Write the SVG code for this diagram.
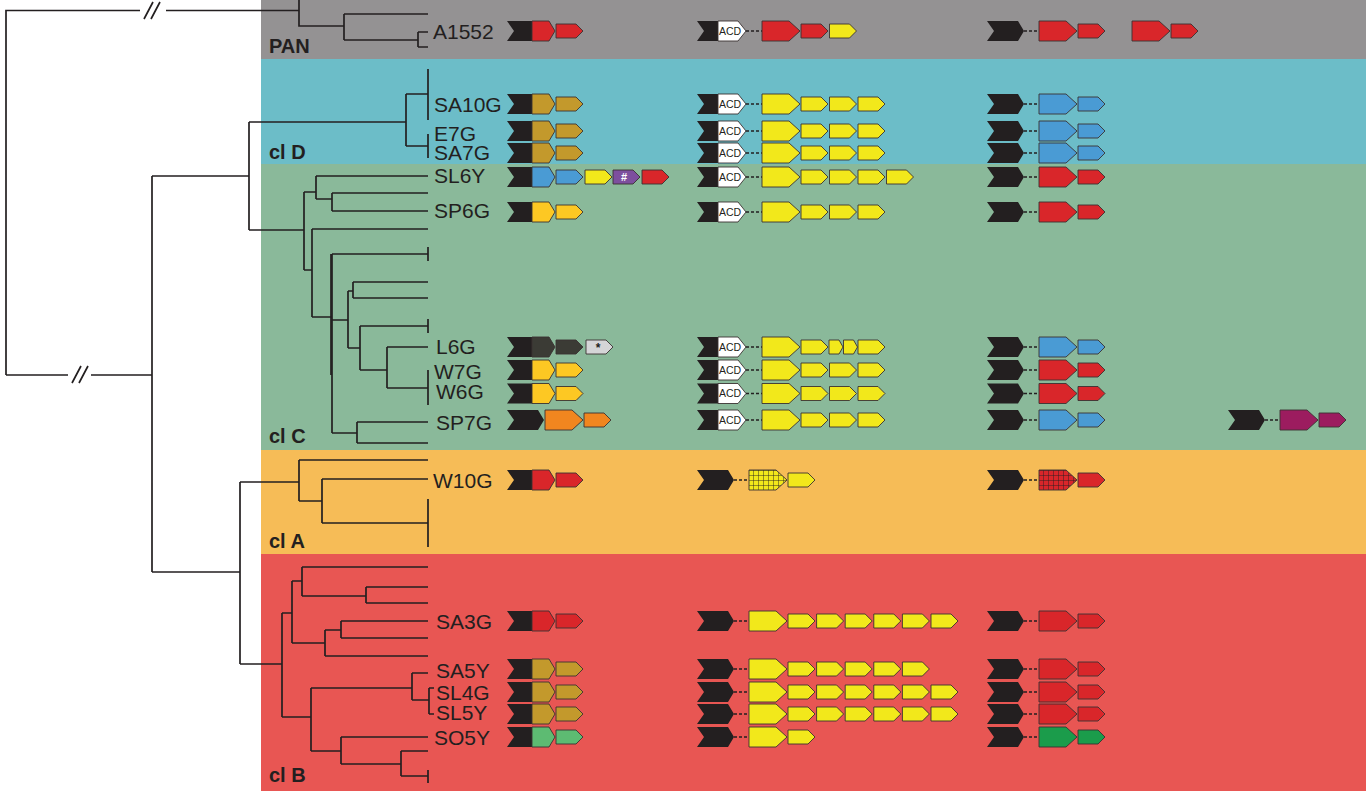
<svg xmlns="http://www.w3.org/2000/svg" xmlns:xlink="http://www.w3.org/1999/xlink" width="1366" height="791" viewBox="0 0 1366 791">
<style>
.lbl{font-family:"Liberation Sans",Arial,sans-serif;font-size:21px;fill:#231f20}
.cl{font-family:"Liberation Sans",Arial,sans-serif;font-size:20px;font-weight:bold;fill:#231f20}
.acd{font-family:"Liberation Sans",Arial,sans-serif;font-size:10.5px;fill:#231f20}
.tree{fill:none;stroke:#231f20;stroke-width:1.7}
.dash{stroke:#231f20;stroke-width:1.6;stroke-dasharray:3 2}
.k{fill:#231f20}
.c{stroke:#3a3232;stroke-width:0.9}
.r{fill:#d9262a}.y{fill:#f2e81b}.gd{fill:#c3992c}.b{fill:#4a9bd4}.yo{fill:#fdc823}
.o{fill:#f1861f}.p{fill:#7d4f9e}.dg{fill:#3b3b35}.lg{fill:#d5d5d7}.lgn{fill:#5dbb72}
.gn{fill:#1b9c4b}.m{fill:#9c1c5f}.w{fill:#ffffff}
</style>
<defs>
<path id="sm" d="M0,-7H20L27,0L20,7H0Z"/>
<path id="tn" d="M0,-7H10L14,0L10,7H0Z"/>
<path id="bg" d="M0,-10H27L38,0L27,10H0Z"/>
<path id="bk" d="M0,-10H31L37,0L31,10H0L7,0Z"/>
<path id="tl" d="M0,-10H25V10H0L7,0Z"/>
<path id="hd" d="M0,-10H17L23,0L17,10H0Z"/>
<path id="at" d="M0,-10H21V10H0L7,0Z"/>
<path id="aw" d="M0,-10H20L28,0L20,10H0Z"/>
<pattern id="gy" patternUnits="userSpaceOnUse" x="749" y="470" width="5" height="5"><rect width="5" height="5" fill="#f2e81b"/><path d="M0,0H5M0,0V5" stroke="#231f20" stroke-width="0.9"/></pattern>
<pattern id="gr" patternUnits="userSpaceOnUse" x="1039" y="470" width="5" height="5"><rect width="5" height="5" fill="#d9262a"/><path d="M0,0H5M0,0V5" stroke="#231f20" stroke-width="0.9"/></pattern>
</defs>

<g id="bands">
<rect x="261" y="0" width="1105" height="59" fill="#949293"/>
<rect x="261" y="59" width="1105" height="105" fill="#6cbdc8"/>
<rect x="261" y="164" width="1105" height="286" fill="#8ab99a"/>
<rect x="261" y="450" width="1105" height="104" fill="#f6bc57"/>
<rect x="261" y="554" width="1105" height="237" fill="#e85653"/>
<text class="cl" x="269" y="53">PAN</text>
<text class="cl" x="269" y="159">cl D</text>
<text class="cl" x="269" y="443">cl C</text>
<text class="cl" x="269" y="548">cl A</text>
<text class="cl" x="269" y="782">cl B</text>
</g>

<g id="connectors">
<path class="tree" d="M6,375V10.5H140M166,10.5H299M299,0V26H344M344,14V40M344,14H428M344,40H418M418,32V47M418,32H428M418,47H428
M6,375H68M91,375H152M152,176V572M152,176H249M249,122V230M249,122H406M406,94V146M406,94H428M406,146H428M428,69V120M428,134V158
M249,230H304M304,192V270M304,192H316M316,176V199M316,176H428M316,199H332M332,193V211M332,193H428M332,211H428
M304,270H312M312,229V317M312,229H428M312,317H332M332,254V433M332,254H428M428,247V261M332,320H348
M348,291V348M348,291H353M353,282V298M353,282H428M353,298H428M348,348H360M360,326V370M360,326H428M428,319V333
M360,370H387M387,347V388M387,347H428M387,388H428M428,370V405M332,433H357M357,422V443M357,422H428M357,443H428
M152,572H240M240,482V664M240,482H299M299,460V501M299,460H428M299,501H322M322,479V523M322,479H428M322,523H428M428,499V547
M240,664H282M282,613V717M282,613H292M292,581V643M292,581H302M302,567V596M302,567H428M302,596H366M366,587V603M366,587H428M366,603H428
M292,643H325M325,630V656M325,630H341M341,621V638M341,621H428M341,638H428M325,656H428
M282,717H311M311,688V751M311,688H412M412,673V700M412,673H428M412,700H429M429,688V714M429,688H434M429,714H434
M311,751H341M341,737V764M341,737H428M341,764H401M401,751V776M401,751H428M401,776H428M428,770V783"/>
<path class="tree" d="M331,254V375"/>
<path class="tree" stroke-width="1.4" d="M144,19L153,2M151,19L160,2M72,383L81,366M79,383L88,366"/>
</g>

<g id="row-A1552">
<text class="lbl" x="433" y="38.5">A1552</text>
<use href="#tl" x="507" y="31" class="k"/><use href="#hd" x="532" y="31" class="r c"/><use href="#sm" x="556" y="31" class="r c"/>
<use href="#at" x="697" y="31" class="k"/><use href="#aw" x="718" y="31" class="w c"/><text class="acd" x="719" y="34.8">ACD</text>
<line class="dash" x1="746" y1="31" x2="762" y2="31"/>
<use href="#bg" x="762" y="31" class="r c"/><use href="#sm" x="801" y="31" class="r c"/><use href="#sm" x="829.5" y="31" class="y c"/>
<use href="#bk" x="987" y="31" class="k"/><line class="dash" x1="1024" y1="31" x2="1039" y2="31"/>
<use href="#bg" x="1039" y="31" class="r c"/><use href="#sm" x="1078" y="31" class="r c"/>
<use href="#bg" x="1132" y="31" class="r c"/><use href="#sm" x="1171" y="31" class="r c"/>
</g>

<g id="row-SA10G">
<text class="lbl" x="434" y="111.7">SA10G</text>
<use href="#tl" x="507" y="104" class="k"/><use href="#hd" x="532" y="104" class="gd c"/><use href="#sm" x="556" y="104" class="gd c"/>
<use href="#at" x="697" y="104" class="k"/><use href="#aw" x="718" y="104" class="w c"/><text class="acd" x="719" y="107.8">ACD</text>
<line class="dash" x1="746" y1="104" x2="762" y2="104"/>
<use href="#bg" x="762" y="104" class="y c"/><use href="#sm" x="801" y="104" class="y c"/><use href="#sm" x="829.5" y="104" class="y c"/><use href="#sm" x="858" y="104" class="y c"/>
<use href="#bk" x="987" y="104" class="k"/><line class="dash" x1="1024" y1="104" x2="1039" y2="104"/>
<use href="#bg" x="1039" y="104" class="b c"/><use href="#sm" x="1078" y="104" class="b c"/>
</g>

<g id="row-E7G">
<text class="lbl" x="434" y="141">E7G</text>
<use href="#tl" x="507" y="131" class="k"/><use href="#hd" x="532" y="131" class="gd c"/><use href="#sm" x="556" y="131" class="gd c"/>
<use href="#at" x="697" y="131" class="k"/><use href="#aw" x="718" y="131" class="w c"/><text class="acd" x="719" y="134.8">ACD</text>
<line class="dash" x1="746" y1="131" x2="762" y2="131"/>
<use href="#bg" x="762" y="131" class="y c"/><use href="#sm" x="801" y="131" class="y c"/><use href="#sm" x="829.5" y="131" class="y c"/><use href="#sm" x="858" y="131" class="y c"/>
<use href="#bk" x="987" y="131" class="k"/><line class="dash" x1="1024" y1="131" x2="1039" y2="131"/>
<use href="#bg" x="1039" y="131" class="b c"/><use href="#sm" x="1078" y="131" class="b c"/>
</g>

<g id="row-SA7G">
<text class="lbl" x="434" y="159.5">SA7G</text>
<use href="#tl" x="507" y="153" class="k"/><use href="#hd" x="532" y="153" class="gd c"/><use href="#sm" x="556" y="153" class="gd c"/>
<use href="#at" x="697" y="153" class="k"/><use href="#aw" x="718" y="153" class="w c"/><text class="acd" x="719" y="156.8">ACD</text>
<line class="dash" x1="746" y1="153" x2="762" y2="153"/>
<use href="#bg" x="762" y="153" class="y c"/><use href="#sm" x="801" y="153" class="y c"/><use href="#sm" x="829.5" y="153" class="y c"/><use href="#sm" x="858" y="153" class="y c"/>
<use href="#bk" x="987" y="153" class="k"/><line class="dash" x1="1024" y1="153" x2="1039" y2="153"/>
<use href="#bg" x="1039" y="153" class="b c"/><use href="#sm" x="1078" y="153" class="b c"/>
</g>

<g id="row-SL6Y">
<text class="lbl" x="434" y="183.3">SL6Y</text>
<use href="#tl" x="507" y="177" class="k"/><use href="#hd" x="532" y="177" class="b c"/><use href="#sm" x="556" y="177" class="b c"/>
<use href="#sm" x="585" y="177" class="y c"/><use href="#sm" x="613" y="177" class="p c"/>
<text x="624" y="181" font-family="Liberation Sans,Arial,sans-serif" font-size="11" font-weight="bold" fill="#ffffff" text-anchor="middle">#</text>
<use href="#sm" x="642" y="177" class="r c"/>
<use href="#at" x="697" y="177" class="k"/><use href="#aw" x="718" y="177" class="w c"/><text class="acd" x="719" y="180.8">ACD</text>
<line class="dash" x1="746" y1="177" x2="762" y2="177"/>
<use href="#bg" x="762" y="177" class="y c"/><use href="#sm" x="801" y="177" class="y c"/><use href="#sm" x="829.5" y="177" class="y c"/><use href="#sm" x="858" y="177" class="y c"/><use href="#sm" x="886.5" y="177" class="y c"/>
<use href="#bk" x="987" y="177" class="k"/><line class="dash" x1="1024" y1="177" x2="1039" y2="177"/>
<use href="#bg" x="1039" y="177" class="r c"/><use href="#sm" x="1078" y="177" class="r c"/>
</g>

<g id="row-SP6G">
<text class="lbl" x="434" y="218.3">SP6G</text>
<use href="#tl" x="507" y="212" class="k"/><use href="#hd" x="532" y="212" class="yo c"/><use href="#sm" x="556" y="212" class="yo c"/>
<use href="#at" x="697" y="212" class="k"/><use href="#aw" x="718" y="212" class="w c"/><text class="acd" x="719" y="215.8">ACD</text>
<line class="dash" x1="746" y1="212" x2="762" y2="212"/>
<use href="#bg" x="762" y="212" class="y c"/><use href="#sm" x="801" y="212" class="y c"/><use href="#sm" x="829.5" y="212" class="y c"/><use href="#sm" x="858" y="212" class="y c"/>
<use href="#bk" x="987" y="212" class="k"/><line class="dash" x1="1024" y1="212" x2="1039" y2="212"/>
<use href="#bg" x="1039" y="212" class="r c"/><use href="#sm" x="1078" y="212" class="r c"/>
</g>

<g id="row-L6G">
<text class="lbl" x="436" y="354">L6G</text>
<use href="#tl" x="507" y="347" class="k"/><use href="#hd" x="532" y="347" class="dg c"/><use href="#sm" x="556" y="347" class="dg c"/>
<use href="#sm" x="586" y="347" class="lg c"/>
<text x="598" y="352" font-family="Liberation Sans,Arial,sans-serif" font-size="12" font-weight="bold" fill="#231f20" text-anchor="middle">*</text>
<use href="#at" x="697" y="347" class="k"/><use href="#aw" x="718" y="347" class="w c"/><text class="acd" x="719" y="350.8">ACD</text>
<line class="dash" x1="746" y1="347" x2="762" y2="347"/>
<use href="#bg" x="762" y="347" class="y c"/><use href="#sm" x="801" y="347" class="y c"/><use href="#tn" x="829" y="347" class="y c"/><use href="#tn" x="843.5" y="347" class="y c"/><use href="#sm" x="858" y="347" class="y c"/>
<use href="#bk" x="987" y="347" class="k"/><line class="dash" x1="1024" y1="347" x2="1039" y2="347"/>
<use href="#bg" x="1039" y="347" class="b c"/><use href="#sm" x="1078" y="347" class="b c"/>
</g>

<g id="row-W7G">
<text class="lbl" x="434" y="379">W7G</text>
<use href="#tl" x="507" y="370" class="k"/><use href="#hd" x="532" y="370" class="yo c"/><use href="#sm" x="556" y="370" class="yo c"/>
<use href="#at" x="697" y="370" class="k"/><use href="#aw" x="718" y="370" class="w c"/><text class="acd" x="719" y="373.8">ACD</text>
<line class="dash" x1="746" y1="370" x2="762" y2="370"/>
<use href="#bg" x="762" y="370" class="y c"/><use href="#sm" x="801" y="370" class="y c"/><use href="#sm" x="829.5" y="370" class="y c"/><use href="#sm" x="858" y="370" class="y c"/>
<use href="#bk" x="987" y="370" class="k"/><line class="dash" x1="1024" y1="370" x2="1039" y2="370"/>
<use href="#bg" x="1039" y="370" class="r c"/><use href="#sm" x="1078" y="370" class="r c"/>
</g>

<g id="row-W6G">
<text class="lbl" x="436" y="399">W6G</text>
<use href="#tl" x="507" y="393.5" class="k"/><use href="#hd" x="532" y="393.5" class="yo c"/><use href="#sm" x="556" y="393.5" class="yo c"/>
<use href="#at" x="697" y="393.5" class="k"/><use href="#aw" x="718" y="393.5" class="w c"/><text class="acd" x="719" y="397.3">ACD</text>
<line class="dash" x1="746" y1="393.5" x2="762" y2="393.5"/>
<use href="#bg" x="762" y="393.5" class="y c"/><use href="#sm" x="801" y="393.5" class="y c"/><use href="#sm" x="829.5" y="393.5" class="y c"/><use href="#sm" x="858" y="393.5" class="y c"/>
<use href="#bk" x="987" y="393.5" class="k"/><line class="dash" x1="1024" y1="393.5" x2="1039" y2="393.5"/>
<use href="#bg" x="1039" y="393.5" class="r c"/><use href="#sm" x="1078" y="393.5" class="r c"/>
</g>

<g id="row-SP7G">
<text class="lbl" x="436" y="430">SP7G</text>
<use href="#bk" x="507" y="420" class="k"/><use href="#bg" x="545" y="420" class="o c"/><use href="#sm" x="584" y="420" class="o c"/>
<use href="#at" x="697" y="420" class="k"/><use href="#aw" x="718" y="420" class="w c"/><text class="acd" x="719" y="423.8">ACD</text>
<line class="dash" x1="746" y1="420" x2="762" y2="420"/>
<use href="#bg" x="762" y="420" class="y c"/><use href="#sm" x="801" y="420" class="y c"/><use href="#sm" x="829.5" y="420" class="y c"/><use href="#sm" x="858" y="420" class="y c"/>
<use href="#bk" x="987" y="420" class="k"/><line class="dash" x1="1024" y1="420" x2="1039" y2="420"/>
<use href="#bg" x="1039" y="420" class="b c"/><use href="#sm" x="1078" y="420" class="b c"/>
<use href="#bk" x="1228" y="420" class="k"/><line class="dash" x1="1265" y1="420" x2="1280" y2="420"/>
<use href="#bg" x="1280" y="420" class="m c"/><use href="#sm" x="1319" y="420" class="m c"/>
</g>

<g id="row-W10G">
<text class="lbl" x="433" y="488">W10G</text>
<use href="#tl" x="507" y="480" class="k"/><use href="#hd" x="532" y="480" class="r c"/><use href="#sm" x="556" y="480" class="r c"/>
<use href="#bk" x="697" y="480" class="k"/><line class="dash" x1="734" y1="480" x2="749" y2="480"/>
<use href="#bg" x="749" y="480" fill="url(#gy)" class="c"/><use href="#sm" x="788" y="480" class="y c"/>
<use href="#bk" x="987" y="480" class="k"/><line class="dash" x1="1024" y1="480" x2="1039" y2="480"/>
<use href="#bg" x="1039" y="480" fill="url(#gr)" class="c"/><use href="#sm" x="1078" y="480" class="r c"/>
</g>

<g id="row-SA3G">
<text class="lbl" x="436" y="629">SA3G</text>
<use href="#tl" x="507" y="621" class="k"/><use href="#hd" x="532" y="621" class="r c"/><use href="#sm" x="556" y="621" class="r c"/>
<use href="#bk" x="697" y="621" class="k"/><line class="dash" x1="734" y1="621" x2="749" y2="621"/>
<use href="#bg" x="749" y="621" class="y c"/><use href="#sm" x="788" y="621" class="y c"/><use href="#sm" x="816.6" y="621" class="y c"/><use href="#sm" x="845.2" y="621" class="y c"/><use href="#sm" x="873.8" y="621" class="y c"/><use href="#sm" x="902.4" y="621" class="y c"/><use href="#sm" x="931" y="621" class="y c"/>
<use href="#bk" x="987" y="621" class="k"/><line class="dash" x1="1024" y1="621" x2="1039" y2="621"/>
<use href="#bg" x="1039" y="621" class="r c"/><use href="#sm" x="1078" y="621" class="r c"/>
</g>

<g id="row-SA5Y">
<text class="lbl" x="436" y="678">SA5Y</text>
<use href="#tl" x="507" y="669" class="k"/><use href="#hd" x="532" y="669" class="gd c"/><use href="#sm" x="556" y="669" class="gd c"/>
<use href="#bk" x="697" y="669" class="k"/><line class="dash" x1="734" y1="669" x2="749" y2="669"/>
<use href="#bg" x="749" y="669" class="y c"/><use href="#sm" x="788" y="669" class="y c"/><use href="#sm" x="816.6" y="669" class="y c"/><use href="#sm" x="845.2" y="669" class="y c"/><use href="#sm" x="873.8" y="669" class="y c"/><use href="#sm" x="902.4" y="669" class="y c"/>
<use href="#bk" x="987" y="669" class="k"/><line class="dash" x1="1024" y1="669" x2="1039" y2="669"/>
<use href="#bg" x="1039" y="669" class="r c"/><use href="#sm" x="1078" y="669" class="r c"/>
</g>

<g id="row-SL4G">
<text class="lbl" x="436" y="700">SL4G</text>
<use href="#tl" x="507" y="692" class="k"/><use href="#hd" x="532" y="692" class="gd c"/><use href="#sm" x="556" y="692" class="gd c"/>
<use href="#bk" x="697" y="692" class="k"/><line class="dash" x1="734" y1="692" x2="749" y2="692"/>
<use href="#bg" x="749" y="692" class="y c"/><use href="#sm" x="788" y="692" class="y c"/><use href="#sm" x="816.6" y="692" class="y c"/><use href="#sm" x="845.2" y="692" class="y c"/><use href="#sm" x="873.8" y="692" class="y c"/><use href="#sm" x="902.4" y="692" class="y c"/><use href="#sm" x="931" y="692" class="y c"/>
<use href="#bk" x="987" y="692" class="k"/><line class="dash" x1="1024" y1="692" x2="1039" y2="692"/>
<use href="#bg" x="1039" y="692" class="r c"/><use href="#sm" x="1078" y="692" class="r c"/>
</g>

<g id="row-SL5Y">
<text class="lbl" x="436" y="720">SL5Y</text>
<use href="#tl" x="507" y="714" class="k"/><use href="#hd" x="532" y="714" class="gd c"/><use href="#sm" x="556" y="714" class="gd c"/>
<use href="#bk" x="697" y="714" class="k"/><line class="dash" x1="734" y1="714" x2="749" y2="714"/>
<use href="#bg" x="749" y="714" class="y c"/><use href="#sm" x="788" y="714" class="y c"/><use href="#sm" x="816.6" y="714" class="y c"/><use href="#sm" x="845.2" y="714" class="y c"/><use href="#sm" x="873.8" y="714" class="y c"/><use href="#sm" x="902.4" y="714" class="y c"/><use href="#sm" x="931" y="714" class="y c"/>
<use href="#bk" x="987" y="714" class="k"/><line class="dash" x1="1024" y1="714" x2="1039" y2="714"/>
<use href="#bg" x="1039" y="714" class="r c"/><use href="#sm" x="1078" y="714" class="r c"/>
</g>

<g id="row-SO5Y">
<text class="lbl" x="434" y="745">SO5Y</text>
<use href="#tl" x="507" y="737" class="k"/><use href="#hd" x="532" y="737" class="lgn c"/><use href="#sm" x="556" y="737" class="lgn c"/>
<use href="#bk" x="697" y="737" class="k"/><line class="dash" x1="734" y1="737" x2="749" y2="737"/>
<use href="#bg" x="749" y="737" class="y c"/><use href="#sm" x="788" y="737" class="y c"/>
<use href="#bk" x="987" y="737" class="k"/><line class="dash" x1="1024" y1="737" x2="1039" y2="737"/>
<use href="#bg" x="1039" y="737" class="gn c"/><use href="#sm" x="1078" y="737" class="gn c"/>
</g>
</svg>
